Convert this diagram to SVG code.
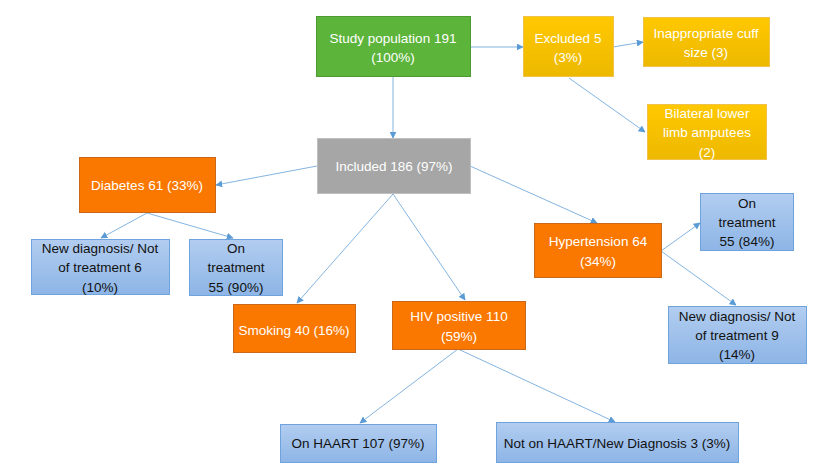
<svg xmlns="http://www.w3.org/2000/svg" width="835" height="475" viewBox="0 0 835 475">
<defs>
<linearGradient id="gy" x1="0" y1="0" x2="0" y2="1"><stop offset="0" stop-color="#ffc800"/><stop offset="1" stop-color="#edb900"/></linearGradient>
<linearGradient id="gb" x1="0" y1="0" x2="0" y2="1"><stop offset="0" stop-color="#b2cdf0"/><stop offset="1" stop-color="#8db5e6"/></linearGradient>
<marker id="ar" viewBox="0 0 10 10" refX="9" refY="5" markerWidth="7" markerHeight="7" markerUnits="userSpaceOnUse" orient="auto"><path d="M0,0 L10,5 L0,10 z" fill="#5b9bd5"/></marker>
</defs>
<style>
text{font-family:"Liberation Sans",Arial,sans-serif;font-size:13.5px;text-anchor:middle}
.w{fill:#ffffff}
.k{fill:#111111}
.green{fill:#5cb43a;stroke:#4e9a32;stroke-width:1}
.yel{fill:url(#gy);stroke:#f0c24a;stroke-width:1}
.gray{fill:#a6a6a6;stroke:#bfbfbf;stroke-width:1}
.org{fill:#fa7800;stroke:#c9671a;stroke-width:1}
.blu{fill:url(#gb);stroke:#6fa3de;stroke-width:1}
.c line{stroke:#5b9bd5;stroke-width:0.75;marker-end:url(#ar)}
</style>
<rect width="835" height="475" fill="#ffffff"/>
<g class="c" id="connectors">
<line x1="470" y1="47" x2="523" y2="47"/>
<line x1="613" y1="47" x2="643" y2="42"/>
<line x1="569" y1="78" x2="645" y2="132"/>
<line x1="393" y1="77" x2="393" y2="138"/>
<line x1="317" y1="166" x2="216" y2="185"/>
<line x1="470" y1="166" x2="597" y2="223"/>
<line x1="393" y1="194" x2="297" y2="303"/>
<line x1="393" y1="194" x2="465" y2="300"/>
<line x1="147" y1="213" x2="101" y2="238"/>
<line x1="147" y1="213" x2="233" y2="238"/>
<line x1="661" y1="251" x2="700" y2="223"/>
<line x1="661" y1="251" x2="736" y2="305"/>
<line x1="458" y1="349" x2="360" y2="423"/>
<line x1="458" y1="349" x2="615" y2="422"/>
</g>
<g id="study"><rect class="green" x="316.5" y="16.5" width="154" height="60"/><text class="w" x="393" y="43">Study population 191</text><text class="w" x="393" y="62">(100%)</text></g>
<g id="excluded"><rect class="yel" x="523.5" y="16.5" width="90" height="60"/><text class="w" x="568" y="43">Excluded 5</text><text class="w" x="568" y="62">(3%)</text></g>
<g id="cuff"><rect class="yel" x="643.5" y="17.5" width="126" height="49"/><text class="w" x="706" y="38">Inappropriate cuff</text><text class="w" x="706" y="57">size (3)</text></g>
<g id="bilateral"><rect class="yel" x="647.5" y="104.5" width="119" height="55"/><text class="w" x="707" y="118">Bilateral lower</text><text class="w" x="707" y="137">limb amputees</text><text class="w" x="707" y="157">(2)</text></g>
<g id="included"><rect class="gray" x="317.5" y="138.5" width="153" height="55"/><text class="w" x="394" y="171">Included 186 (97%)</text></g>
<g id="diabetes"><rect class="org" x="79.5" y="157.5" width="136" height="55"/><text class="w" x="147" y="190">Diabetes 61 (33%)</text></g>
<g id="dm-new"><rect class="blu" x="31.5" y="239.5" width="138" height="55"/><text class="k" x="100" y="253">New diagnosis/ Not</text><text class="k" x="100" y="272">of treatment 6</text><text class="k" x="100" y="292">(10%)</text></g>
<g id="dm-on"><rect class="blu" x="189.5" y="239.5" width="93" height="56"/><text class="k" x="236" y="253">On</text><text class="k" x="236" y="272">treatment</text><text class="k" x="236" y="292">55 (90%)</text></g>
<g id="hypertension"><rect class="org" x="534.5" y="223.5" width="127" height="54"/><text class="w" x="598" y="246">Hypertension 64</text><text class="w" x="598" y="266">(34%)</text></g>
<g id="ht-on"><rect class="blu" x="700.5" y="193.5" width="93" height="57"/><text class="k" x="747" y="208">On</text><text class="k" x="747" y="227">treatment</text><text class="k" x="747" y="246">55 (84%)</text></g>
<g id="ht-new"><rect class="blu" x="668.5" y="306.5" width="138" height="57"/><text class="k" x="737" y="321">New diagnosis/ Not</text><text class="k" x="737" y="340">of treatment 9</text><text class="k" x="737" y="359">(14%)</text></g>
<g id="smoking"><rect class="org" x="233.5" y="304.5" width="122" height="48"/><text class="w" x="294" y="335">Smoking 40 (16%)</text></g>
<g id="hiv"><rect class="org" x="392.5" y="301.5" width="133" height="48"/><text class="w" x="459" y="321">HIV positive 110</text><text class="w" x="459" y="341">(59%)</text></g>
<g id="haart"><rect class="blu" x="280.5" y="424.5" width="156" height="38"/><text class="k" x="358" y="448">On HAART 107 (97%)</text></g>
<g id="not-haart"><rect class="blu" x="496.5" y="422.5" width="242" height="40"/><text class="k" x="617" y="448">Not on HAART/New Diagnosis 3 (3%)</text></g>
</svg>
